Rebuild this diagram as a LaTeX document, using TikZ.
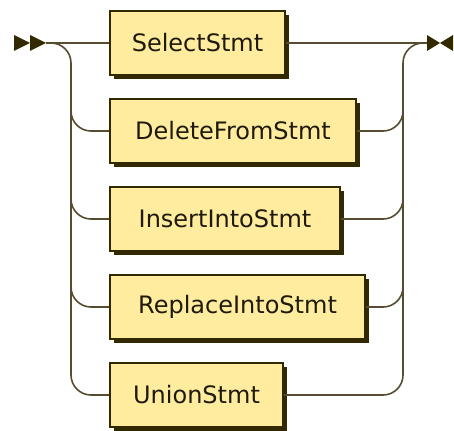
\documentclass[tikz,border=0pt]{standalone}
\usepackage{fontspec}
\setmainfont{DejaVu Sans}
\usetikzlibrary{shadows}
\definecolor{rrline}{HTML}{332900}
\definecolor{rrrail}{HTML}{564C30}
\definecolor{rrfill}{HTML}{FFEC9E}
\definecolor{rrtext}{HTML}{1E1A0C}
\begin{document}
\begin{tikzpicture}[x=1pt,y=-1pt,
  rail/.style={draw=rrrail, line width=1.6pt, rounded corners=20pt},
  tip/.style={fill=rrline},
  ntbox/.style={draw=rrline, fill=rrfill, line width=1.8pt, minimum height=64pt,
    inner sep=0pt, text=rrtext, font=\fontsize{24}{28}\selectfont,
    drop shadow={shadow xshift=4pt, shadow yshift=-4pt, fill=rrline, opacity=1}}]
\useasboundingbox (0,0) rectangle (454,430);

% start and end markers
\fill[tip] (14,35) -- (30,43) -- (14,51) -- cycle;
\fill[tip] (30,35) -- (46,43) -- (30,51) -- cycle;
\fill[tip] (427,35) -- (440,43) -- (427,51) -- cycle;
\fill[tip] (453,35) -- (440,43) -- (453,51) -- cycle;
\coordinate (start) at (46,43);
\coordinate (end) at (427,43);

% boxes
\node[ntbox, minimum width=175pt] (sel) at (197.5,43)  {SelectStmt};
\node[ntbox, minimum width=246pt] (del) at (233,131)   {DeleteFromStmt};
\node[ntbox, minimum width=230pt] (ins) at (225,219)   {InsertIntoStmt};
\node[ntbox, minimum width=255pt] (rep) at (237.5,307) {ReplaceIntoStmt};
\node[ntbox, minimum width=173pt] (uni) at (196.5,395) {UnionStmt};

% main line
\draw[rail] (start) -- (sel.west);
\draw[rail] (sel.east) -- (end);

% left split
\coordinate (lsplit) at (51,43);
\draw[rail] (lsplit) -- (71,43) -- (71,395) -- (uni.west);
\draw[rail] (71,91)  -- (71,131) -- (del.west);
\draw[rail] (71,179) -- (71,219) -- (ins.west);
\draw[rail] (71,267) -- (71,307) -- (rep.west);

% right join
\coordinate (rjoin) at (423,43);
\draw[rail] (uni.east) -- (403,395) -- (403,43) -- (rjoin);
\draw[rail] (del.east) -- (403,131) -- (403,91);
\draw[rail] (ins.east) -- (403,219) -- (403,179);
\draw[rail] (rep.east) -- (403,307) -- (403,267);
\end{tikzpicture}
\end{document}
